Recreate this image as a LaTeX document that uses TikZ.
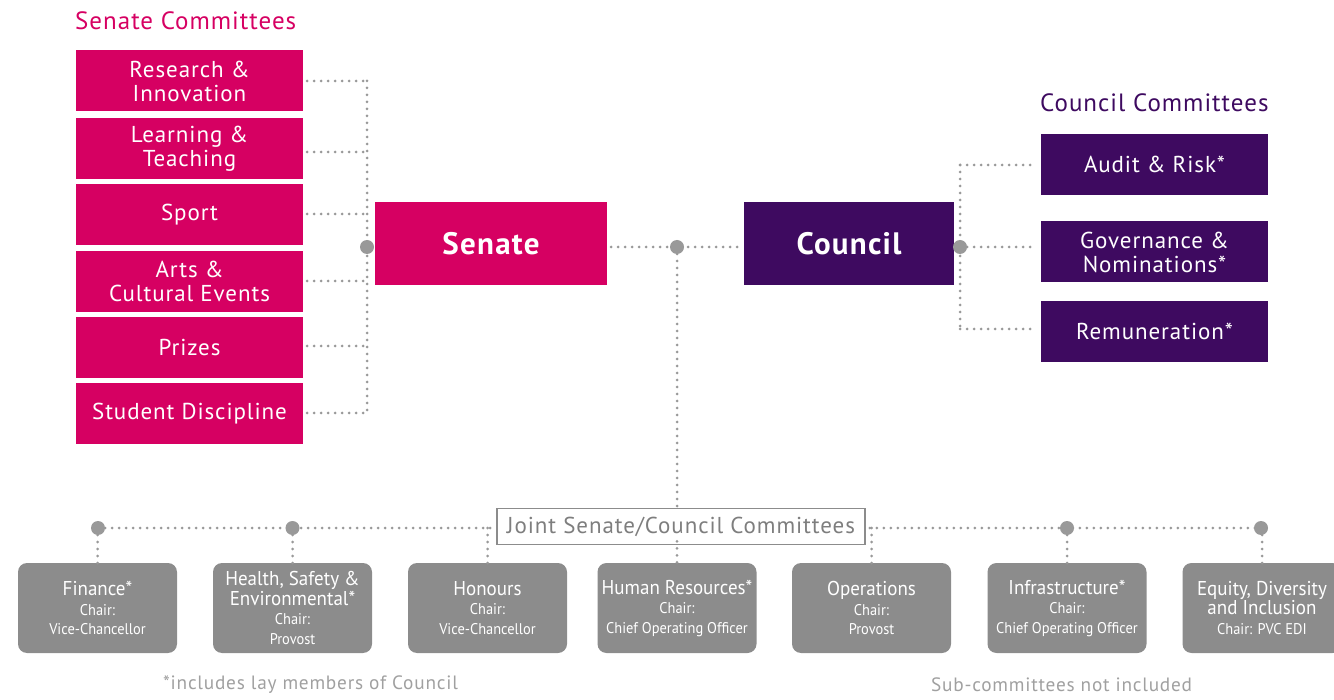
\documentclass[tikz,border=0pt]{standalone}
\usepackage{fontspec}
\setmainfont{PT Sans}[LetterSpace=4]
\newfontfamily\narrowfont{PT Sans}[FakeStretch=0.93]
\newfontfamily\titlefont{PT Sans}[FakeStretch=0.95]
\definecolor{mag}{HTML}{D60062}
\definecolor{pur}{HTML}{3E0A60}
\definecolor{gbox}{HTML}{8C8C8C}
\definecolor{gline}{HTML}{999999}
\definecolor{gtext}{HTML}{A0A0A0}
\tikzset{
  senbox/.style={fill=mag,text=white,minimum width=227pt,minimum height=61pt,inner sep=0pt,align=center,font=\fontsize{23}{24}\selectfont},
  counbox/.style={fill=pur,text=white,minimum width=227pt,minimum height=61pt,inner sep=0pt,align=center,font=\fontsize{23}{24}\selectfont},
  mainbox/.style={minimum height=83pt,inner sep=0pt,text=white,font=\fontsize{31}{34}\selectfont\bfseries},
  jbox/.style={fill=gbox,text=white,rounded corners=9pt,minimum width=159pt,minimum height=90pt,inner sep=0pt,align=center,font=\narrowfont\fontsize{15.5}{19.5}\selectfont},
  dots/.style={draw=gline,line width=3pt,line cap=round,dash pattern=on 0pt off 7pt},
  bigdot/.style={circle,fill=gline,minimum size=14pt,inner sep=0pt},
}
\begin{document}
\begin{tikzpicture}[x=1pt,y=-1pt]
\useasboundingbox (0,0) rectangle (1334,700);
\clip (0,0) rectangle (1334,700);

% titles
\node[anchor=west,text=mag,font=\fontsize{25}{27}\selectfont,inner sep=0pt] (stitle) at (75,21) {Senate Committees};
\node[anchor=west,text=pur,font=\fontsize{25}{27}\selectfont,inner sep=0pt] (ctitle) at (1040,103) {Council Committees};

% senate committees
\node[senbox] (s1) at (189.5,81) {Research \&\\Innovation};
\node[senbox] (s2) at (189.5,148.5) {Learning \&\\Teaching};
\node[senbox] (s3) at (189.5,214.5) {Sport};
\node[senbox] (s4) at (189.5,281.5) {Arts \&\\Cultural Events};
\node[senbox] (s5) at (189.5,347.5) {Prizes};
\node[senbox] (s6) at (189.5,414) {Student Discipline};

% main
\node[mainbox,fill=mag,minimum width=232pt] (senate) at (491,243.5) {Senate};
\node[mainbox,fill=pur,minimum width=210pt] (council) at (849,243.5) {Council};

% council committees
\node[counbox] (c1) at (1154.5,164.5) {Audit \& Risk*};
\node[counbox] (c2) at (1154.5,252) {Governance \&\\Nominations*};
\node[counbox] (c3) at (1154.5,331.5) {Remuneration*};

% junction coordinates
\coordinate (sj) at (367,247);
\coordinate (mj) at (677,247);
\coordinate (cj) at (960,247);
\coordinate (jtop) at (677,508);

% senate connectors
\coordinate (y1) at (0,81);
\coordinate (y2) at (0,152);
\coordinate (y3) at (0,214);
\coordinate (y4) at (0,281);
\coordinate (y5) at (0,346);
\coordinate (y6) at (0,413);
\foreach \s/\yy in {s1/y1,s2/y2,s3/y3,s4/y4,s5/y5,s6/y6}{
  \draw[dots] ([xshift=4pt]\s.east |- \yy) -- (sj |- \yy);
}
\draw[dots] (sj |- y1) -- (sj |- y6);

% senate-council
\draw[dots] ([xshift=4pt]senate.east |- mj) -- ([xshift=-3pt]council.west |- mj);
\draw[dots] (mj) -- (jtop);

% council connectors
\coordinate (cy1) at (0,165);
\coordinate (cy3) at (0,329);
\draw[dots] (cj |- cy1) -- (cj |- cy3);
\draw[dots] (cj |- cy1) -- ([xshift=-4pt]c1.west |- cy1);
\draw[dots] (cj) -- ([xshift=-4pt]c2.west |- cj);
\draw[dots] (cj |- cy3) -- ([xshift=-4pt]c3.west |- cy3);

% joint box
\node[draw=gbox,line width=1.6pt,minimum width=368pt,minimum height=36pt,inner sep=0pt,text=gbox!90!black,font=\fontsize{23}{24}\selectfont] (joint) at (681,526.5) {Joint Senate/Council Committees};

% bottom boxes
\node[jbox] (b1) at (97.5,608) {{\titlefont\fontsize{20}{20}\selectfont Finance*}\\Chair:\\Vice-Chancellor};
\node[jbox] (b2) at (292.5,608) {{\titlefont\fontsize{20}{20}\selectfont Health, Safety \&}\\{\titlefont\fontsize{20}{20}\selectfont Environmental*}\\Chair:\\Provost};
\node[jbox] (b3) at (487.5,608) {{\titlefont\fontsize{20}{20}\selectfont Honours}\\Chair:\\Vice-Chancellor};
\node[jbox] (b4) at (677,608) {{\titlefont\fontsize{20}{20}\selectfont Human Resources*}\\Chair:\\Chief Operating Officer};
\node[jbox] (b5) at (871.5,608) {{\titlefont\fontsize{20}{20}\selectfont Operations}\\Chair:\\Provost};
\node[jbox] (b6) at (1067,608) {{\titlefont\fontsize{20}{20}\selectfont Infrastructure*}\\Chair:\\Chief Operating Officer};
\node[jbox] (b7) at (1262,608) {{\titlefont\fontsize{20}{20}\selectfont Equity, Diversity}\\{\titlefont\fontsize{20}{20}\selectfont and Inclusion}\\Chair: PVC EDI};

% bottom connectors
\coordinate (bl) at (98,528);
\coordinate (br) at (1261,528);
\draw[dots] (bl) -- ([xshift=-4pt]joint.west |- bl);
\draw[dots] ([xshift=4pt]joint.east |- br) -- (br);
\draw[dots] (b1.north |- bl) -- ([yshift=-3pt]b1.north);
\draw[dots] (b2.north |- bl) -- ([yshift=-3pt]b2.north);
\draw[dots] (b3.north |- bl) -- ([yshift=-3pt]b3.north);
\draw[dots] ([yshift=4pt]joint.south -| b4.north) -- ([yshift=-3pt]b4.north);
\draw[dots] (b5.north |- bl) -- ([yshift=-3pt]b5.north);
\draw[dots] (b6.north |- bl) -- ([yshift=-3pt]b6.north);
\draw[dots] (b7.north |- bl) -- ([yshift=-3pt]b7.north);

% big dots
\node[bigdot] (d1) at (sj) {};
\node[bigdot] (d2) at (mj) {};
\node[bigdot] (d3) at (cj) {};
\node[bigdot] (d4) at (bl) {};
\node[bigdot] (d5) at (b2.north |- bl) {};
\node[bigdot] (d6) at (b6.north |- bl) {};
\node[bigdot] (d7) at (br) {};

% footnotes
\node[anchor=west,text=gtext,font=\fontsize{19.3}{21}\selectfont,inner sep=0pt] (fn1) at (163,685) {*includes lay members of Council};
\node[anchor=west,text=gtext,font=\fontsize{19.3}{21}\selectfont,inner sep=0pt] (fn2) at (931,685) {Sub-committees not included};
\end{tikzpicture}
\end{document}
